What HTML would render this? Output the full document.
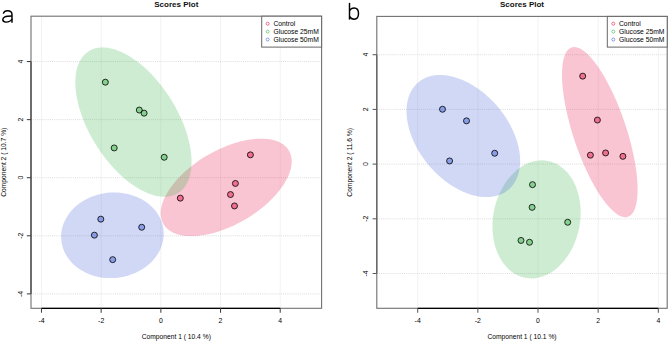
<!DOCTYPE html>
<html><head><meta charset="utf-8"><style>
html,body{margin:0;padding:0;background:#fff;}
body{width:669px;height:342px;overflow:hidden;}
svg{display:block;}
text{font-family:"Liberation Sans",sans-serif;fill:#000;stroke:none;}
.tk{font-size:6.9px;}
.lab{font-size:6.7px;}
.ttl{font-size:8px;font-weight:bold;fill:#111;}
.lg{font-size:6.75px;}
.pl{font-size:24px;fill:#111;}
</style></head><body>
<svg width="669" height="342" viewBox="0 0 669 342">
<rect width="669" height="342" fill="#fff"/>
<g>
<g stroke="#f0f0f0" stroke-width="0.9"><line x1="41.49" y1="16.2" x2="41.49" y2="308.3"/><line x1="101.17" y1="16.2" x2="101.17" y2="308.3"/><line x1="160.85" y1="16.2" x2="160.85" y2="308.3"/><line x1="220.53" y1="16.2" x2="220.53" y2="308.3"/><line x1="280.21" y1="16.2" x2="280.21" y2="308.3"/></g>
<g stroke="#d8d8d8" stroke-width="0.9" stroke-dasharray="1,1.1"><line x1="31" y1="293.86" x2="321.6" y2="293.86"/><line x1="31" y1="235.78" x2="321.6" y2="235.78"/><line x1="31" y1="177.70" x2="321.6" y2="177.70"/><line x1="31" y1="119.62" x2="321.6" y2="119.62"/><line x1="31" y1="61.54" x2="321.6" y2="61.54"/></g>
<clipPath id="c31"><rect x="31" y="16.2" width="290.6" height="292.1"/></clipPath>
<g clip-path="url(#c31)">
<path d="M257.92,210.98 L254.22,213.64 L250.41,216.19 L246.50,218.63 L242.51,220.94 L238.46,223.11 L234.35,225.14 L230.21,227.02 L226.06,228.74 L221.90,230.29 L217.77,231.67 L213.66,232.88 L209.61,233.89 L205.63,234.73 L201.72,235.37 L197.92,235.81 L194.23,236.07 L190.67,236.12 L187.25,235.98 L183.99,235.65 L180.90,235.12 L177.99,234.40 L175.28,233.49 L172.77,232.39 L170.47,231.11 L168.41,229.66 L166.57,228.04 L164.97,226.25 L163.62,224.30 L162.53,222.21 L161.68,219.98 L161.10,217.61 L160.78,215.13 L160.73,212.53 L160.94,209.83 L161.41,207.04 L162.14,204.17 L163.13,201.24 L164.37,198.25 L165.87,195.21 L167.60,192.14 L169.58,189.06 L171.78,185.97 L174.19,182.88 L176.82,179.81 L179.65,176.77 L182.67,173.78 L185.86,170.84 L189.21,167.96 L192.71,165.17 L196.35,162.46 L200.11,159.85 L203.97,157.36 L207.92,154.98 L211.95,152.74 L216.03,150.64 L220.16,148.68 L224.31,146.88 L228.46,145.24 L232.61,143.77 L236.73,142.48 L240.81,141.37 L244.83,140.45 L248.78,139.71 L252.63,139.16 L256.38,138.81 L260.01,138.66 L263.50,138.70 L266.84,138.94 L270.02,139.37 L273.02,140.00 L275.83,140.81 L278.44,141.82 L280.85,143.01 L283.03,144.37 L284.98,145.91 L286.70,147.62 L288.17,149.48 L289.40,151.50 L290.37,153.67 L291.08,155.97 L291.53,158.39 L291.72,160.94 L291.64,163.59 L291.30,166.33 L290.70,169.16 L289.84,172.07 L288.72,175.03 L287.35,178.05 L285.73,181.10 L283.88,184.18 L281.79,187.27 L279.48,190.36 L276.96,193.44 L274.23,196.49 L271.30,199.51 L268.20,202.48 L264.92,205.39 L261.50,208.23 L257.92,210.98Z" fill="rgba(230,25,75,0.25)"/>
<path d="M184.27,187.45 L182.38,189.61 L180.30,191.50 L178.03,193.11 L175.58,194.44 L172.95,195.47 L170.17,196.21 L167.25,196.64 L164.18,196.78 L160.99,196.62 L157.69,196.16 L154.30,195.40 L150.82,194.34 L147.27,193.00 L143.66,191.37 L140.01,189.46 L136.34,187.27 L132.65,184.83 L128.97,182.13 L125.30,179.20 L121.67,176.03 L118.09,172.64 L114.56,169.06 L111.12,165.28 L107.76,161.33 L104.51,157.22 L101.37,152.97 L98.36,148.59 L95.49,144.11 L92.78,139.54 L90.23,134.90 L87.85,130.21 L85.66,125.49 L83.66,120.75 L81.86,116.02 L80.26,111.31 L78.89,106.65 L77.73,102.05 L76.79,97.52 L76.09,93.10 L75.61,88.80 L75.37,84.63 L75.36,80.61 L75.58,76.75 L76.04,73.08 L76.73,69.61 L77.65,66.35 L78.79,63.31 L80.15,60.51 L81.73,57.96 L83.51,55.67 L85.50,53.64 L87.67,51.89 L90.04,50.43 L92.57,49.25 L95.28,48.36 L98.13,47.77 L101.13,47.49 L104.26,47.50 L107.50,47.81 L110.85,48.42 L114.29,49.33 L117.81,50.53 L121.39,52.02 L125.02,53.79 L128.68,55.84 L132.37,58.15 L136.05,60.72 L139.73,63.54 L143.38,66.60 L146.99,69.87 L150.54,73.36 L154.03,77.05 L157.43,80.91 L160.74,84.94 L163.94,89.13 L167.01,93.44 L169.95,97.87 L172.74,102.40 L175.38,107.01 L177.84,111.67 L180.13,116.38 L182.23,121.12 L184.13,125.85 L185.83,130.58 L187.31,135.26 L188.58,139.90 L189.63,144.46 L190.45,148.94 L191.04,153.30 L191.40,157.54 L191.53,161.64 L191.42,165.58 L191.08,169.34 L190.50,172.91 L189.70,176.28 L188.67,179.43 L187.42,182.35 L185.95,185.03 L184.27,187.45Z" fill="rgba(60,180,75,0.25)"/>
<path d="M148.03,265.05 L145.61,266.95 L143.07,268.71 L140.40,270.34 L137.62,271.84 L134.73,273.18 L131.76,274.37 L128.71,275.41 L125.59,276.28 L122.42,276.99 L119.21,277.53 L115.97,277.90 L112.72,278.09 L109.47,278.12 L106.23,277.97 L103.01,277.66 L99.83,277.17 L96.70,276.51 L93.64,275.69 L90.65,274.70 L87.75,273.56 L84.94,272.26 L82.25,270.81 L79.68,269.22 L77.24,267.49 L74.94,265.64 L72.80,263.66 L70.81,261.56 L68.99,259.37 L67.34,257.07 L65.88,254.69 L64.60,252.23 L63.52,249.70 L62.63,247.11 L61.95,244.47 L61.46,241.80 L61.19,239.10 L61.11,236.39 L61.25,233.67 L61.59,230.96 L62.13,228.27 L62.88,225.60 L63.83,222.97 L64.97,220.40 L66.30,217.88 L67.82,215.43 L69.52,213.07 L71.39,210.79 L73.43,208.61 L75.62,206.54 L77.96,204.59 L80.44,202.75 L83.05,201.05 L85.78,199.49 L88.61,198.07 L91.54,196.80 L94.56,195.69 L97.64,194.74 L100.79,193.95 L103.98,193.32 L107.20,192.87 L110.45,192.58 L113.70,192.47 L116.95,192.53 L120.19,192.76 L123.38,193.17 L126.54,193.74 L129.64,194.48 L132.67,195.39 L135.61,196.45 L138.47,197.67 L141.22,199.05 L143.85,200.57 L146.36,202.23 L148.73,204.02 L150.95,205.94 L153.02,207.98 L154.92,210.12 L156.66,212.37 L158.21,214.71 L159.58,217.13 L160.76,219.63 L161.75,222.19 L162.53,224.80 L163.12,227.46 L163.50,230.15 L163.68,232.85 L163.64,235.57 L163.41,238.29 L162.96,240.99 L162.32,243.67 L161.47,246.32 L160.43,248.92 L159.19,251.47 L157.76,253.95 L156.15,256.36 L154.36,258.68 L152.41,260.91 L150.29,263.04 L148.03,265.05Z" fill="rgba(67,99,216,0.25)"/>
</g>
<circle cx="250.4" cy="154.85" r="3.0" fill="rgba(230,25,75,0.5)" stroke="#000" stroke-width="0.8"/>
<circle cx="235.4" cy="183.45" r="3.0" fill="rgba(230,25,75,0.5)" stroke="#000" stroke-width="0.8"/>
<circle cx="230.5" cy="194.54999999999998" r="3.0" fill="rgba(230,25,75,0.5)" stroke="#000" stroke-width="0.8"/>
<circle cx="234.5" cy="205.95" r="3.0" fill="rgba(230,25,75,0.5)" stroke="#000" stroke-width="0.8"/>
<circle cx="180.3" cy="198.15" r="3.0" fill="rgba(230,25,75,0.5)" stroke="#000" stroke-width="0.8"/>
<circle cx="105.35" cy="82.19" r="3.0" fill="rgba(60,180,75,0.5)" stroke="#000" stroke-width="0.8"/>
<circle cx="139.3" cy="110.05" r="3.0" fill="rgba(60,180,75,0.5)" stroke="#000" stroke-width="0.8"/>
<circle cx="144.1" cy="113.14999999999999" r="3.0" fill="rgba(60,180,75,0.5)" stroke="#000" stroke-width="0.8"/>
<circle cx="114.2" cy="147.95" r="3.0" fill="rgba(60,180,75,0.5)" stroke="#000" stroke-width="0.8"/>
<circle cx="164.2" cy="157.25" r="3.0" fill="rgba(60,180,75,0.5)" stroke="#000" stroke-width="0.8"/>
<circle cx="100.8" cy="219.15" r="3.0" fill="rgba(67,99,216,0.5)" stroke="#000" stroke-width="0.8"/>
<circle cx="94.4" cy="235.15" r="3.0" fill="rgba(67,99,216,0.5)" stroke="#000" stroke-width="0.8"/>
<circle cx="141.7" cy="227.25" r="3.0" fill="rgba(67,99,216,0.5)" stroke="#000" stroke-width="0.8"/>
<circle cx="112.7" cy="259.65000000000003" r="3.0" fill="rgba(67,99,216,0.5)" stroke="#000" stroke-width="0.8"/>
<rect x="31" y="16.2" width="290.6" height="292.1" fill="none" stroke="#707070" stroke-width="1.1"/>
<line x1="41.49" y1="308.3" x2="280.21" y2="308.3" stroke="#000" stroke-width="1.2"/>
<line x1="31" y1="293.86" x2="31" y2="61.54" stroke="#404040" stroke-width="1.2"/>
<line x1="41.49" y1="308.3" x2="41.49" y2="312.7" stroke="#404040" stroke-width="1.05"/>
<line x1="101.17" y1="308.3" x2="101.17" y2="312.7" stroke="#404040" stroke-width="1.05"/>
<line x1="160.85" y1="308.3" x2="160.85" y2="312.7" stroke="#404040" stroke-width="1.05"/>
<line x1="220.53" y1="308.3" x2="220.53" y2="312.7" stroke="#404040" stroke-width="1.05"/>
<line x1="280.21" y1="308.3" x2="280.21" y2="312.7" stroke="#404040" stroke-width="1.05"/>
<line x1="26.8" y1="293.86" x2="31" y2="293.86" stroke="#404040" stroke-width="1.05"/>
<line x1="26.8" y1="235.78" x2="31" y2="235.78" stroke="#404040" stroke-width="1.05"/>
<line x1="26.8" y1="177.70" x2="31" y2="177.70" stroke="#404040" stroke-width="1.05"/>
<line x1="26.8" y1="119.62" x2="31" y2="119.62" stroke="#404040" stroke-width="1.05"/>
<line x1="26.8" y1="61.54" x2="31" y2="61.54" stroke="#404040" stroke-width="1.05"/>
<rect x="261.70" y="16.2" width="59.90" height="30.90" fill="#fff" stroke="#666" stroke-width="1"/>
<circle cx="267.70" cy="23.70" r="1.5" fill="#fff" stroke="#e6194B" stroke-opacity="0.6" stroke-width="1.0"/>
<circle cx="267.70" cy="31.60" r="1.5" fill="#fff" stroke="#3cb44b" stroke-opacity="0.6" stroke-width="1.0"/>
<circle cx="267.70" cy="39.50" r="1.5" fill="#fff" stroke="#4363d8" stroke-opacity="0.6" stroke-width="1.0"/>
<g stroke="#f0f0f0" stroke-width="0.9"><line x1="417.68" y1="16.4" x2="417.68" y2="308.3"/><line x1="477.84" y1="16.4" x2="477.84" y2="308.3"/><line x1="538.00" y1="16.4" x2="538.00" y2="308.3"/><line x1="598.16" y1="16.4" x2="598.16" y2="308.3"/><line x1="658.32" y1="16.4" x2="658.32" y2="308.3"/></g>
<g stroke="#d8d8d8" stroke-width="0.9" stroke-dasharray="1,1.1"><line x1="376.8" y1="273.50" x2="667.2" y2="273.50"/><line x1="376.8" y1="218.80" x2="667.2" y2="218.80"/><line x1="376.8" y1="164.10" x2="667.2" y2="164.10"/><line x1="376.8" y1="109.40" x2="667.2" y2="109.40"/><line x1="376.8" y1="54.70" x2="667.2" y2="54.70"/></g>
<clipPath id="c376"><rect x="376.8" y="16.4" width="290.40000000000003" height="291.90000000000003"/></clipPath>
<g clip-path="url(#c376)">
<path d="M634.40,209.98 L633.36,212.00 L632.19,213.69 L630.89,215.06 L629.47,216.09 L627.92,216.78 L626.26,217.14 L624.50,217.15 L622.63,216.81 L620.68,216.14 L618.63,215.13 L616.52,213.79 L614.33,212.11 L612.09,210.12 L609.80,207.81 L607.47,205.19 L605.11,202.28 L602.72,199.09 L600.33,195.63 L597.93,191.91 L595.54,187.95 L593.16,183.77 L590.82,179.38 L588.51,174.80 L586.24,170.05 L584.03,165.14 L581.88,160.11 L579.81,154.95 L577.82,149.71 L575.91,144.40 L574.10,139.04 L572.39,133.65 L570.80,128.25 L569.32,122.87 L567.96,117.52 L566.74,112.24 L565.64,107.03 L564.68,101.93 L563.87,96.95 L563.20,92.11 L562.67,87.43 L562.30,82.93 L562.07,78.63 L562.00,74.54 L562.08,70.69 L562.32,67.08 L562.70,63.74 L563.23,60.67 L563.91,57.89 L564.74,55.40 L565.70,53.23 L566.81,51.37 L568.04,49.84 L569.41,48.64 L570.89,47.78 L572.50,47.26 L574.21,47.08 L576.02,47.24 L577.94,47.74 L579.93,48.58 L582.01,49.76 L584.17,51.27 L586.38,53.11 L588.65,55.26 L590.96,57.72 L593.31,60.49 L595.68,63.54 L598.08,66.87 L600.47,70.46 L602.87,74.30 L605.25,78.37 L607.61,82.66 L609.94,87.15 L612.23,91.82 L614.47,96.65 L616.65,101.62 L618.76,106.72 L620.80,111.92 L622.75,117.20 L624.61,122.54 L626.37,127.92 L628.02,133.31 L629.56,138.71 L630.97,144.07 L632.27,149.39 L633.43,154.63 L634.46,159.79 L635.34,164.84 L636.09,169.75 L636.68,174.51 L637.13,179.11 L637.43,183.51 L637.58,187.70 L637.58,191.68 L637.42,195.41 L637.11,198.88 L636.65,202.09 L636.05,205.02 L635.29,207.65 L634.40,209.98Z" fill="rgba(230,25,75,0.25)"/>
<path d="M565.84,258.59 L563.69,261.31 L561.43,263.86 L559.07,266.23 L556.62,268.41 L554.09,270.40 L551.49,272.18 L548.83,273.75 L546.12,275.10 L543.37,276.22 L540.59,277.12 L537.80,277.79 L535.00,278.21 L532.21,278.41 L529.43,278.36 L526.69,278.08 L523.98,277.56 L521.33,276.80 L518.73,275.82 L516.21,274.61 L513.77,273.17 L511.42,271.52 L509.18,269.66 L507.04,267.60 L505.02,265.34 L503.13,262.90 L501.37,260.28 L499.76,257.50 L498.29,254.56 L496.98,251.48 L495.83,248.28 L494.84,244.96 L494.02,241.53 L493.37,238.01 L492.89,234.42 L492.59,230.77 L492.47,227.08 L492.52,223.35 L492.76,219.61 L493.16,215.86 L493.75,212.13 L494.50,208.43 L495.43,204.78 L496.52,201.18 L497.77,197.65 L499.18,194.22 L500.74,190.88 L502.44,187.66 L504.28,184.57 L506.25,181.61 L508.34,178.81 L510.55,176.18 L512.86,173.71 L515.26,171.43 L517.76,169.35 L520.32,167.46 L522.96,165.79 L525.64,164.33 L528.37,163.09 L531.14,162.08 L533.93,161.30 L536.72,160.75 L539.52,160.44 L542.30,160.37 L545.06,160.53 L547.79,160.93 L550.47,161.57 L553.10,162.44 L555.66,163.54 L558.14,164.86 L560.54,166.41 L562.83,168.16 L565.03,170.13 L567.11,172.29 L569.06,174.64 L570.89,177.17 L572.57,179.87 L574.11,182.73 L575.50,185.74 L576.74,188.88 L577.81,192.15 L578.71,195.53 L579.45,199.00 L580.01,202.55 L580.40,206.17 L580.61,209.85 L580.65,213.56 L580.50,217.30 L580.18,221.05 L579.69,224.78 L579.02,228.50 L578.18,232.18 L577.17,235.81 L576.00,239.37 L574.67,242.86 L573.18,246.24 L571.55,249.52 L569.78,252.68 L567.87,255.71 L565.84,258.59Z" fill="rgba(60,180,75,0.25)"/>
<path d="M510.99,187.28 L508.94,189.28 L506.69,191.07 L504.28,192.64 L501.70,193.98 L498.96,195.08 L496.08,195.95 L493.07,196.58 L489.94,196.97 L486.71,197.11 L483.38,197.00 L479.96,196.65 L476.48,196.05 L472.95,195.22 L469.38,194.14 L465.79,192.83 L462.18,191.29 L458.58,189.53 L455.00,187.56 L451.45,185.38 L447.95,183.00 L444.51,180.43 L441.15,177.68 L437.88,174.76 L434.70,171.69 L431.65,168.47 L428.72,165.13 L425.93,161.67 L423.29,158.10 L420.82,154.45 L418.51,150.72 L416.39,146.93 L414.45,143.10 L412.71,139.24 L411.17,135.37 L409.85,131.50 L408.74,127.65 L407.85,123.83 L407.18,120.06 L406.74,116.36 L406.53,112.74 L406.54,109.21 L406.79,105.79 L407.26,102.49 L407.96,99.32 L408.88,96.31 L410.02,93.45 L411.37,90.76 L412.93,88.26 L414.70,85.95 L416.66,83.85 L418.81,81.95 L421.14,80.27 L423.64,78.81 L426.30,77.59 L429.11,76.60 L432.05,75.85 L435.13,75.34 L438.31,75.08 L441.60,75.07 L444.97,75.29 L448.42,75.77 L451.93,76.49 L455.48,77.44 L459.06,78.63 L462.67,80.06 L466.27,81.71 L469.86,83.58 L473.43,85.66 L476.96,87.94 L480.43,90.42 L483.83,93.08 L487.15,95.91 L490.37,98.91 L493.49,102.05 L496.48,105.33 L499.34,108.74 L502.06,112.25 L504.61,115.87 L507.01,119.56 L509.22,123.32 L511.26,127.13 L513.09,130.98 L514.73,134.84 L516.16,138.72 L517.38,142.58 L518.38,146.42 L519.16,150.21 L519.72,153.95 L520.05,157.61 L520.14,161.19 L520.01,164.67 L519.66,168.03 L519.07,171.26 L518.26,174.36 L517.23,177.29 L515.98,180.07 L514.52,182.66 L512.86,185.07 L510.99,187.28Z" fill="rgba(67,99,216,0.25)"/>
</g>
<circle cx="582.7" cy="76.14999999999999" r="3.0" fill="rgba(230,25,75,0.5)" stroke="#000" stroke-width="0.8"/>
<circle cx="597.4" cy="120.05" r="3.0" fill="rgba(230,25,75,0.5)" stroke="#000" stroke-width="0.8"/>
<circle cx="590.4" cy="155.15" r="3.0" fill="rgba(230,25,75,0.5)" stroke="#000" stroke-width="0.8"/>
<circle cx="605.6" cy="152.95" r="3.0" fill="rgba(230,25,75,0.5)" stroke="#000" stroke-width="0.8"/>
<circle cx="622.9" cy="156.35" r="3.0" fill="rgba(230,25,75,0.5)" stroke="#000" stroke-width="0.8"/>
<circle cx="532.5" cy="184.65" r="3.0" fill="rgba(60,180,75,0.5)" stroke="#000" stroke-width="0.8"/>
<circle cx="532.1" cy="207.35" r="3.0" fill="rgba(60,180,75,0.5)" stroke="#000" stroke-width="0.8"/>
<circle cx="567.7" cy="222.25" r="3.0" fill="rgba(60,180,75,0.5)" stroke="#000" stroke-width="0.8"/>
<circle cx="521.0" cy="240.45" r="3.0" fill="rgba(60,180,75,0.5)" stroke="#000" stroke-width="0.8"/>
<circle cx="529.5" cy="242.25" r="3.0" fill="rgba(60,180,75,0.5)" stroke="#000" stroke-width="0.8"/>
<circle cx="442.5" cy="109.25" r="3.0" fill="rgba(67,99,216,0.5)" stroke="#000" stroke-width="0.8"/>
<circle cx="466.5" cy="120.85" r="3.0" fill="rgba(67,99,216,0.5)" stroke="#000" stroke-width="0.8"/>
<circle cx="494.7" cy="153.25" r="3.0" fill="rgba(67,99,216,0.5)" stroke="#000" stroke-width="0.8"/>
<circle cx="449.6" cy="160.95" r="3.0" fill="rgba(67,99,216,0.5)" stroke="#000" stroke-width="0.8"/>
<rect x="376.8" y="16.4" width="290.40000000000003" height="291.90000000000003" fill="none" stroke="#707070" stroke-width="1.1"/>
<line x1="417.68" y1="308.3" x2="658.32" y2="308.3" stroke="#000" stroke-width="1.2"/>
<line x1="376.8" y1="273.50" x2="376.8" y2="54.70" stroke="#606060" stroke-width="1.2"/>
<line x1="417.68" y1="308.3" x2="417.68" y2="312.7" stroke="#5a5a5a" stroke-width="1.05"/>
<line x1="477.84" y1="308.3" x2="477.84" y2="312.7" stroke="#5a5a5a" stroke-width="1.05"/>
<line x1="538.00" y1="308.3" x2="538.00" y2="312.7" stroke="#5a5a5a" stroke-width="1.05"/>
<line x1="598.16" y1="308.3" x2="598.16" y2="312.7" stroke="#5a5a5a" stroke-width="1.05"/>
<line x1="658.32" y1="308.3" x2="658.32" y2="312.7" stroke="#5a5a5a" stroke-width="1.05"/>
<line x1="372.6" y1="273.50" x2="376.8" y2="273.50" stroke="#5a5a5a" stroke-width="1.05"/>
<line x1="372.6" y1="218.80" x2="376.8" y2="218.80" stroke="#5a5a5a" stroke-width="1.05"/>
<line x1="372.6" y1="164.10" x2="376.8" y2="164.10" stroke="#5a5a5a" stroke-width="1.05"/>
<line x1="372.6" y1="109.40" x2="376.8" y2="109.40" stroke="#5a5a5a" stroke-width="1.05"/>
<line x1="372.6" y1="54.70" x2="376.8" y2="54.70" stroke="#5a5a5a" stroke-width="1.05"/>
<rect x="607.30" y="16.4" width="59.90" height="30.70" fill="#fff" stroke="#666" stroke-width="1"/>
<circle cx="613.30" cy="23.70" r="1.5" fill="#fff" stroke="#e6194B" stroke-opacity="0.6" stroke-width="1.0"/>
<circle cx="613.30" cy="31.60" r="1.5" fill="#fff" stroke="#3cb44b" stroke-opacity="0.6" stroke-width="1.0"/>
<circle cx="613.30" cy="39.50" r="1.5" fill="#fff" stroke="#4363d8" stroke-opacity="0.6" stroke-width="1.0"/>
</g>
<g>
<text x="41.49" y="323.2" class="tk" text-anchor="middle">-4</text>
<text x="101.17" y="323.2" class="tk" text-anchor="middle">-2</text>
<text x="160.85" y="323.2" class="tk" text-anchor="middle">0</text>
<text x="220.53" y="323.2" class="tk" text-anchor="middle">2</text>
<text x="280.21" y="323.2" class="tk" text-anchor="middle">4</text>
<text transform="translate(22.5,293.86) rotate(-90)" class="tk" text-anchor="middle">-4</text>
<text transform="translate(22.5,235.78) rotate(-90)" class="tk" text-anchor="middle">-2</text>
<text transform="translate(22.5,177.70) rotate(-90)" class="tk" text-anchor="middle">0</text>
<text transform="translate(22.5,119.62) rotate(-90)" class="tk" text-anchor="middle">2</text>
<text transform="translate(22.5,61.54) rotate(-90)" class="tk" text-anchor="middle">4</text>
<text x="176.30" y="339.3" class="lab" text-anchor="middle">Component 1 ( 10.4 %)</text>
<text transform="translate(6.399999999999999,162.25) rotate(-90)" class="lab" text-anchor="middle">Component 2 ( 10.7 %)</text>
<text x="176.30" y="7.2" class="ttl" text-anchor="middle">Scores Plot</text>
<text x="273.40" y="26.00" class="lg">Control</text>
<text x="273.40" y="33.90" class="lg">Glucose 25mM</text>
<text x="273.40" y="41.80" class="lg">Glucose 50mM</text>
<text x="417.68" y="323.2" class="tk" text-anchor="middle">-4</text>
<text x="477.84" y="323.2" class="tk" text-anchor="middle">-2</text>
<text x="538.00" y="323.2" class="tk" text-anchor="middle">0</text>
<text x="598.16" y="323.2" class="tk" text-anchor="middle">2</text>
<text x="658.32" y="323.2" class="tk" text-anchor="middle">4</text>
<text transform="translate(368.3,273.50) rotate(-90)" class="tk" text-anchor="middle">-4</text>
<text transform="translate(368.3,218.80) rotate(-90)" class="tk" text-anchor="middle">-2</text>
<text transform="translate(368.3,164.10) rotate(-90)" class="tk" text-anchor="middle">0</text>
<text transform="translate(368.3,109.40) rotate(-90)" class="tk" text-anchor="middle">2</text>
<text transform="translate(368.3,54.70) rotate(-90)" class="tk" text-anchor="middle">4</text>
<text x="522.00" y="339.3" class="lab" text-anchor="middle">Component 1 ( 10.1 %)</text>
<text transform="translate(352.2,162.35) rotate(-90)" class="lab" text-anchor="middle">Component 2 ( 11.6 %)</text>
<text x="522.00" y="7.2" class="ttl" text-anchor="middle">Scores Plot</text>
<text x="619.00" y="26.00" class="lg">Control</text>
<text x="619.00" y="33.90" class="lg">Glucose 25mM</text>
<text x="619.00" y="41.80" class="lg">Glucose 50mM</text>
<g fill="none" stroke="#000" stroke-width="1.45" stroke-linecap="butt">
<path d="M3.3,13.6 C3.9,11.6 5.4,10.75 7.5,10.75 C10.3,10.75 12.0,11.8 12.0,14.6 L12.0,22.7"/>
<path d="M12.0,15.9 C9.5,15.9 6.5,16.0 4.8,16.8 C3.3,17.5 2.8,18.5 2.8,19.6 C2.8,21.3 4.0,22.1 6.0,22.1 C8.8,22.1 11.0,20.9 12.0,19.0"/>
<path d="M349.5,2.9 L349.5,19.6"/>
<path d="M349.5,10.6 C350.6,8.8 352.2,7.95 354.2,7.95 C357.0,7.95 358.5,10.3 358.5,13.55 C358.5,16.8 357.0,19.15 354.2,19.15 C352.2,19.15 350.6,18.3 349.5,16.5"/>
</g>
</g>
</svg>
</body></html>
